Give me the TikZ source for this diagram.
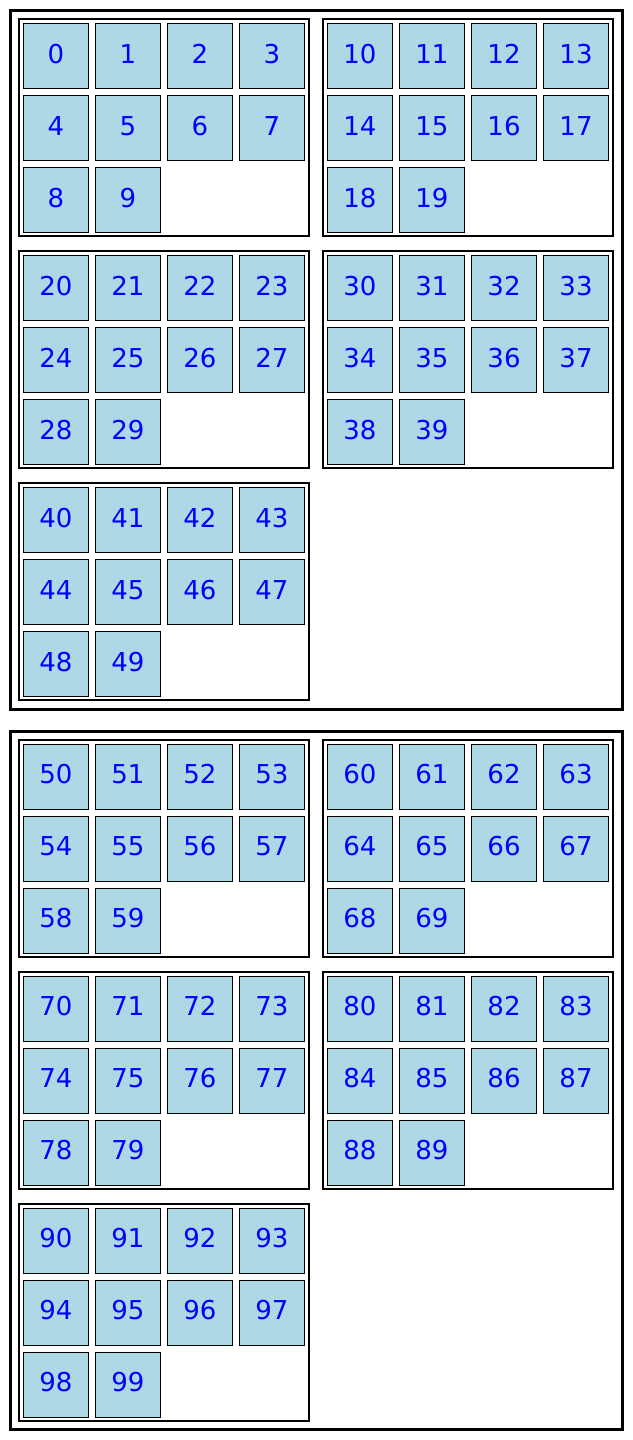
\documentclass[tikz,border=0pt]{standalone}
\usepackage{fontspec}
\setmainfont{DejaVu Sans}
\usepackage{xcolor}
\definecolor{cellblue}{HTML}{ADD8E6}
\definecolor{digitblue}{HTML}{0000FF}

\begin{document}
\begin{tikzpicture}[x=1pt, y=-1pt, font=\fontsize{26}{30}\selectfont,
  cell/.style={draw=black, line width=1pt, fill=cellblue, text=digitblue,
    minimum size=65pt, inner sep=0pt, text height=19pt, text depth=5pt},
  groupbox/.style={draw=black, line width=2pt},
  outerbox/.style={draw=black, line width=3pt}]
\useasboundingbox (0,0) rectangle (632,1440);
% two outer frames, five groups of ten cells each
\foreach \b in {0,1} {
  \pgfmathsetmacro\boxtop{10.5+720.5*\b}
  \pgfmathsetmacro\boxbot{\boxtop+698.5}
  \draw[outerbox] (10.5,\boxtop) rectangle (622,\boxbot);
  \foreach \g in {0,...,4} {
    \pgfmathsetmacro\gx{19+304*mod(\g,2)}
    \pgfmathsetmacro\gy{\boxtop+8.5+232*floor(\g/2)}
    \draw[groupbox] (\gx,\gy) rectangle ++(290,217);
    \foreach \c in {0,...,9} {
      \pgfmathtruncatemacro\num{50*\b+10*\g+\c}
      \pgfmathsetmacro\cx{\gx+37+72*mod(\c,4)}
      \pgfmathsetmacro\cy{\gy+37+72*floor(\c/4)}
      \node[cell] (n\num) at (\cx,\cy) {\num};
    }
  }
}
\end{tikzpicture}
\end{document}
